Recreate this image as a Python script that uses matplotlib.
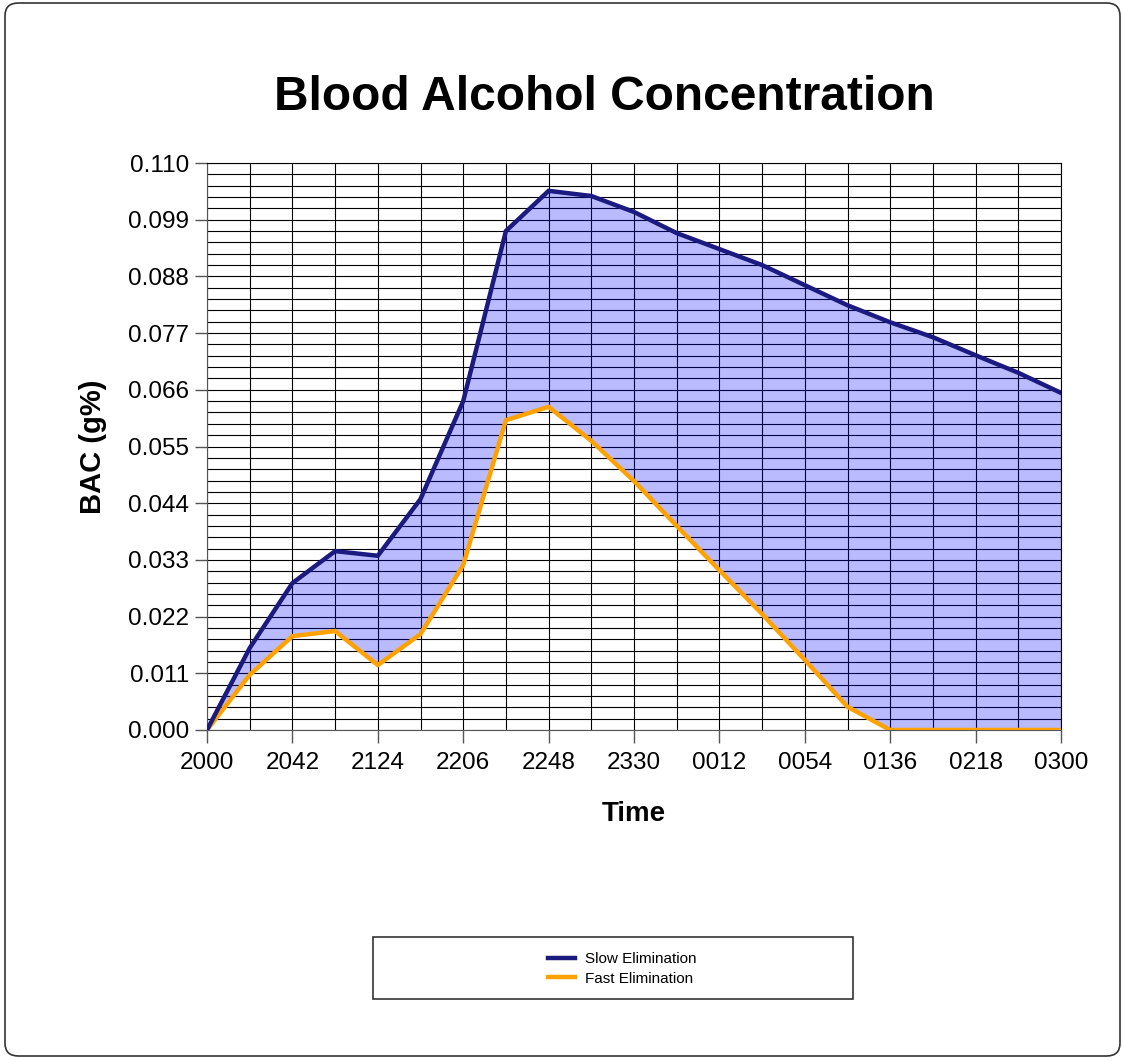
import numpy as np
import matplotlib.pyplot as plt
from matplotlib.patches import FancyBboxPatch, Rectangle

plt.rcParams['font.family'] = ['Liberation Sans', 'DejaVu Sans']

# Data (21-minute steps from 2000 to 0300)
times = ['2000', '2021', '2042', '2103', '2124', '2145', '2206', '2227', '2248', '2309',
         '2330', '2351', '0012', '0033', '0054', '0115', '0136', '0157', '0218', '0239', '0300']
slow = [0.0, 0.0159, 0.0285, 0.0347, 0.0338, 0.0448, 0.0638, 0.0968, 0.1046, 0.1036,
        0.1005, 0.0964, 0.0933, 0.0902, 0.0863, 0.0824, 0.0791, 0.0762, 0.0727, 0.0693, 0.0654]
fast = [0.0, 0.0107, 0.0182, 0.0192, 0.0126, 0.0186, 0.0320, 0.0601, 0.0627, 0.0561,
        0.0483, 0.0396, 0.0310, 0.0225, 0.0136, 0.0045, 0.0, 0.0, 0.0, 0.0, 0.0]
yticks = [0.000, 0.011, 0.022, 0.033, 0.044, 0.055, 0.066, 0.077, 0.088, 0.099, 0.110]

x = np.arange(len(times))

fig = plt.figure(figsize=(11.23, 10.61), dpi=100)
ax = fig.add_axes([207/1123, 1-730/1061, (1061-207)/1123, (730-163)/1061])

# rounded outer frame
frame = FancyBboxPatch((5/1123, 5/1061), 1115/1123, 1053/1061, transform=fig.transFigure,
                       boxstyle='round,pad=0,rounding_size=0.012', fill=False,
                       edgecolor='#333333', linewidth=1.2, zorder=0)
fig.patches.append(frame)

# legend box
lbox = Rectangle((373/1123, 1-999/1061), 480/1123, 62/1061, transform=fig.transFigure,
                 fill=False, edgecolor='#333333', linewidth=1.2)
fig.patches.append(lbox)

# grid lines
for yy in np.arange(0, 0.1101, 0.0022):
    ax.axhline(yy, color='black', lw=0.8, zorder=1)
for xx in x:
    ax.axvline(xx, color='black', lw=0.8, zorder=1)

ax.fill_between(x, fast, slow, color='#0000ff', alpha=0.27, lw=0, zorder=2)
ax.plot(x, slow, color='#1a1a80', lw=3.2, label='Slow Elimination', zorder=4, solid_joinstyle='miter')
ax.plot(x, fast, color='#ffa200', lw=3.2, label='Fast Elimination', zorder=3, solid_joinstyle='miter')

ax.set_xlim(0, 20)
ax.set_ylim(0, 0.110)
ax.set_xticks(x[::2])
ax.set_xticklabels(times[::2])
ax.set_yticks(yticks)
ax.set_yticklabels(['%.3f' % v for v in yticks])
ax.tick_params(axis='both', labelsize=17.5, length=9, width=1, color='#555555')
ax.tick_params(axis='x', pad=7)
ax.tick_params(axis='y', pad=4)
for s in ax.spines.values():
    s.set_color('black')
    s.set_linewidth(0.8)
ax.spines['left'].set_color('#555555')
ax.spines['bottom'].set_color('#555555')

ax.set_xlabel('Time', fontsize=20, fontweight='bold', labelpad=19)
ax.set_ylabel('BAC (g%)', fontsize=21, fontweight='bold', labelpad=15)
fig.text(604/1123, 1-97/1061, 'Blood Alcohol Concentration', fontsize=34.5,
         fontweight='bold', ha='center', va='center')

fig.legend(loc='center', bbox_to_anchor=(622/1123, 1-969/1061),
           fontsize=11, frameon=False, handlelength=1.8,
           handletextpad=0.6, labelspacing=0.35)

fig.savefig('out.png', dpi=100)
